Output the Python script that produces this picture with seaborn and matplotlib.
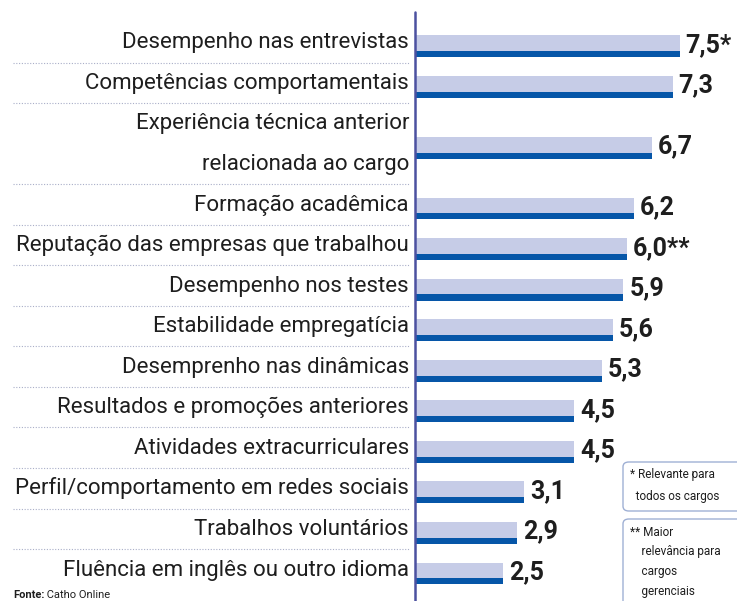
import numpy as np
import pandas as pd
import matplotlib
matplotlib.use("Agg")
import matplotlib.pyplot as plt
from matplotlib.patches import FancyBboxPatch
import seaborn as sns

# dados
categorias = [
    "Desempenho nas entrevistas",
    "Competências comportamentais",
    "Experiência técnica anterior\nrelacionada ao cargo",
    "Formação acadêmica",
    "Reputação das empresas que trabalhou",
    "Desempenho nos testes",
    "Estabilidade empregatícia",
    "Desemprenho nas dinâmicas",
    "Resultados e promoções anteriores",
    "Atividades extracurriculares",
    "Perfil/comportamento em redes sociais",
    "Trabalhos voluntários",
    "Fluência em inglês ou outro idioma",
]
valores = [7.5, 7.3, 6.7, 6.2, 6.0, 5.9, 5.6, 5.3, 4.5, 4.5, 3.1, 2.9, 2.5]
rotulos = ["7,5*", "7,3", "6,7", "6,2", "6,0**", "5,9", "5,6", "5,3",
           "4,5", "4,5", "3,1", "2,9", "2,5"]
nota1 = ["* Relevante para", "  todos os cargos"]
nota2 = ["** Maior", "    relevância para", "    cargos", "    gerenciais"]
fonte = "Catho Online"

CLARO = "#c6cce7"
ESCURO = "#0656a8"
EIXO = "#4c51a0"
PONTILHADO = "#a9aec8"
TEXTO = "#1e1e1e"

W, H = 737, 601
PX_UNID = 35.3      # pixels por unidade de valor
X0 = 415            # pixel do zero
LINHA = 40.55       # altura de uma linha (px)
TOPO = 22           # pixel do topo da primeira linha

# posicao das linhas (a terceira categoria ocupa duas)
n_linhas = [c.count("\n") + 1 for c in categorias]
limites = np.concatenate([[0], np.cumsum(n_linhas)])
centros = (limites[:-1] + limites[1:]) / 2

sns.set_theme(style="white")
plt.rcParams["font.family"] = ["Roboto", "DejaVu Sans"]

fig = plt.figure(figsize=(W / 100, H / 100), dpi=100)
ax = fig.add_axes([0, 0, 1, 1])

df = pd.DataFrame({"valor": valores, "pos": centros + 0.1})
sns.barplot(data=df, x="valor", y="pos", orient="h", native_scale=True,
            width=0.54, color=CLARO, saturation=1, linewidth=0,
            errorbar=None, ax=ax)
df_faixa = pd.DataFrame({"valor": valores, "pos": centros + 0.1 + 0.27 - 0.075})
sns.barplot(data=df_faixa, x="valor", y="pos", orient="h", native_scale=True,
            width=0.15, color=ESCURO, saturation=1, linewidth=0,
            errorbar=None, ax=ax)

ax.set_xlim(-X0 / PX_UNID, (W - X0) / PX_UNID)
ax.set_ylim((H - TOPO) / LINHA, -TOPO / LINHA)
ax.set_axis_off()

# eixo vertical
ax.axvline(0, ymin=0, ymax=1 - 12 / H, color=EIXO, lw=1.8)

# rotulos das categorias e separadores pontilhados
x_fim = -6 / PX_UNID
for i, cat in enumerate(categorias):
    for j, parte in enumerate(cat.split("\n")):
        ax.text(x_fim, limites[i] + j + 0.5 + 0.15, parte, ha="right",
                va="baseline", fontsize=16, color=TEXTO)
for lim in limites[1:-1]:
    ax.plot([(13 - X0) / PX_UNID, -5 / PX_UNID], [lim, lim], ls=(0, (1, 1.5)),
            lw=0.8, color=PONTILHADO)

# valores
for v, r, c in zip(valores, rotulos, centros):
    ax.text(v + 6 / PX_UNID, c + 0.1 + 0.14, r, ha="left", va="baseline",
            fontsize=18, fontweight="bold", color=TEXTO)

# caixas de nota
def fx(px):
    return px / W

def fy(py):
    return 1 - py / H

for (y0, y1) in [(462, 511), (519, 615)]:
    caixa = FancyBboxPatch((fx(623), fy(y1)), fx(760 - 623), (y1 - y0) / H,
                           boxstyle="round,pad=0,rounding_size=0.008",
                           transform=fig.transFigure, fc="white",
                           ec="#9fb0d4", lw=1.0)
    fig.patches.append(caixa)

for k, linha in enumerate(nota1):
    fig.text(fx(630), fy(478 + k * 22), linha, fontsize=8.5, color=TEXTO,
             va="baseline")
for k, linha in enumerate(nota2):
    fig.text(fx(630), fy(536 + k * 19.5), linha, fontsize=8.5, color=TEXTO,
             va="baseline")

# fonte
t1 = fig.text(fx(13), fy(598), "Fonte:", fontsize=8, fontweight="bold",
              color=TEXTO, va="baseline")
ax.annotate(" " + fonte, xy=(1, 0), xycoords=t1, va="bottom", ha="left",
            fontsize=8, color=TEXTO)

fig.savefig("out.png", dpi=100)
